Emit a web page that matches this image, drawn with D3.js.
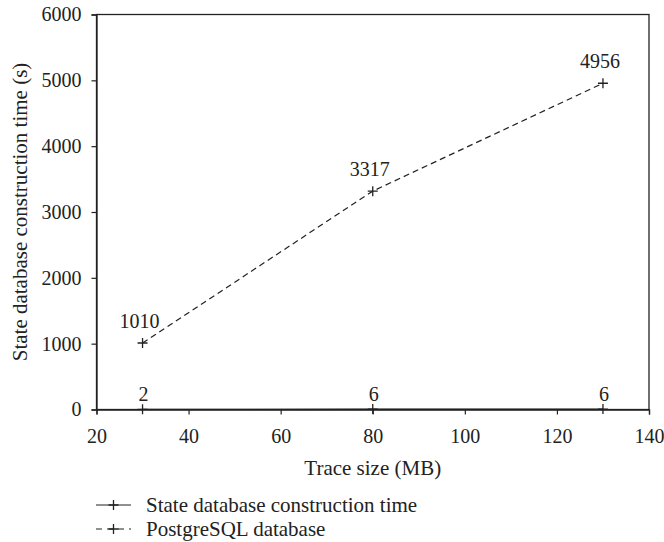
<!DOCTYPE html>
<html>
<head>
<meta charset="utf-8">
<script src="https://cdn.jsdelivr.net/npm/d3@7"></script>
<style>
  body { margin: 0; background: white; }
  text { font-family: "Liberation Serif", "DejaVu Serif", serif; fill: #222; }
</style>
</head>
<body>
<svg id="chart" width="664" height="542"></svg>
<script>
// data
const traceSizes = [30, 80, 130];
const stateTimes = [2, 6, 6];
const postgresTimes = [1010, 3317, 4956];
const xTicks = [20, 40, 60, 80, 100, 120, 140];
const yTicks = [0, 1000, 2000, 3000, 4000, 5000, 6000];
const seriesNames = ["State database construction time", "PostgreSQL database"];

let margin = {left: 96.5, right: 15, top: 14.5, bottom: 132.5};
let width = 664, height = 542;
let numSize = "20px";
let titleSize = "21px";
let inkColor = "#222";

let svg = d3.select("#chart");

let x = d3.scaleLinear().domain([20, 140]).range([margin.left, width - margin.right]);
let y = d3.scaleLinear().domain([0, 6000]).range([height - margin.bottom, margin.top]);

// frame (top + right)
svg.append("rect")
  .attr("x", x(20)).attr("y", y(6000))
  .attr("width", x(140) - x(20)).attr("height", y(0) - y(6000))
  .style("fill", "none").style("stroke", inkColor).style("stroke-width", "1.3px");

// axes
let xAxis = svg.append("g")
  .attr("transform", "translate(0," + y(0) + ")")
  .call(d3.axisBottom(x).tickValues(xTicks).tickSize(5).tickPadding(14).tickFormat(d3.format("d")));
let yAxis = svg.append("g")
  .attr("transform", "translate(" + x(20) + ",0)")
  .call(d3.axisLeft(y).tickValues(yTicks).tickSize(5).tickPadding(10).tickFormat(d3.format("d")));

[xAxis, yAxis].forEach(function(g) {
  g.select(".domain").style("stroke", inkColor).style("stroke-width", "1.3px");
  g.selectAll(".tick line").style("stroke", inkColor).style("stroke-width", "1.2px");
  g.selectAll(".tick text")
    .style("font-family", "Liberation Serif, DejaVu Serif, serif")
    .style("font-size", numSize)
    .style("fill", inkColor);
});

// axis titles
svg.append("text")
  .attr("x", (x(20) + x(140)) / 2)
  .attr("y", 475)
  .text("Trace size (MB)")
  .style("text-anchor", "middle")
  .style("font-size", titleSize);

svg.append("text")
  .attr("transform", "translate(27," + (y(0) + y(6000)) / 2 + ") rotate(-90)")
  .text("State database construction time (s)")
  .style("text-anchor", "middle")
  .style("font-size", titleSize);

// series
let stateData = traceSizes.map(function(d, i) { return {x: d, y: stateTimes[i]}; });
let pgData = traceSizes.map(function(d, i) { return {x: d, y: postgresTimes[i]}; });

let line = d3.line()
  .x(function(d) { return x(d.x); })
  .y(function(d) { return y(d.y); });

svg.append("path")
  .datum(stateData)
  .attr("d", line)
  .style("fill", "none").style("stroke", inkColor).style("stroke-width", "1.2px");

svg.append("path")
  .datum(pgData)
  .attr("d", line)
  .style("fill", "none").style("stroke", inkColor).style("stroke-width", "1.2px")
  .style("stroke-dasharray", "6,4");

// plus markers
function drawPlus(data) {
  svg.append("g").selectAll("path")
    .data(data)
    .enter()
    .append("path")
      .attr("d", function(d) {
        let cx = x(d.x), cy = y(d.y), r = 5;
        return "M" + (cx - r) + "," + cy + "H" + (cx + r) + "M" + cx + "," + (cy - r) + "V" + (cy + r);
      })
      .style("stroke", inkColor).style("stroke-width", "1.3px").style("fill", "none");
}
drawPlus(stateData);
drawPlus(pgData);

// value labels
svg.selectAll(".pgLabel")
  .data(pgData)
  .enter()
  .append("text")
    .attr("x", function(d) { return x(d.x) - 3; })
    .attr("y", function(d) { return y(d.y) - 15; })
    .text(function(d) { return d.y; })
    .style("text-anchor", "middle")
    .style("font-size", numSize);

svg.selectAll(".stateLabel")
  .data(stateData)
  .enter()
  .append("text")
    .attr("x", function(d) { return x(d.x) + 1; })
    .attr("y", function(d) { return y(d.y) - 8; })
    .text(function(d) { return d.y; })
    .style("text-anchor", "middle")
    .style("font-size", numSize);

// legend
let legend = svg.selectAll(".legendItem")
  .data(seriesNames)
  .enter()
  .append("g")
    .attr("transform", function(d, i) { return "translate(96," + (505 + i * 24) + ")"; });

legend.append("line")
  .attr("x1", 0).attr("x2", 35).attr("y1", 0).attr("y2", 0)
  .style("stroke", inkColor).style("stroke-width", "1.2px")
  .style("stroke-dasharray", function(d, i) { return i === 1 ? "6,5" : null; });
legend.append("path")
  .attr("d", "M12.5,0H22.5M17.5,-5V5")
  .style("stroke", inkColor).style("stroke-width", "1.3px");
legend.append("text")
  .attr("x", 50)
  .attr("y", 7)
  .text(function(d) { return d; })
  .style("font-size", titleSize);
</script>
</body>
</html>
